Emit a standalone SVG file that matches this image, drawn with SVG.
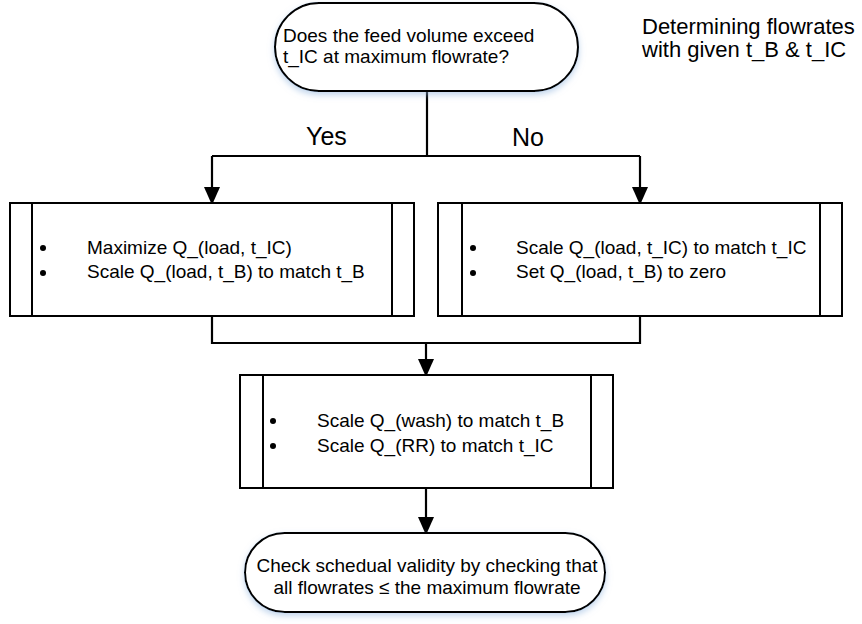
<svg xmlns="http://www.w3.org/2000/svg" width="862" height="624" viewBox="0 0 862 624">
<style>
text{font-family:"Liberation Sans",Arial,sans-serif;fill:#000}
.t{font-size:19px}
.big{font-size:25px}
.title{font-size:22px}
.term{fill:#fff;stroke:#000;stroke-width:2}
.box{fill:#fff;stroke:#000;stroke-width:2}
.edge{fill:none;stroke:#000;stroke-width:2.2}
.bul{fill:#000}
</style>
<defs>
<filter id="sh" x="-10%" y="-20%" width="120%" height="150%">
<feDropShadow dx="0" dy="3" stdDeviation="3" flood-color="#8fb3de" flood-opacity="0.55"/>
</filter>
<marker id="ah" viewBox="0 0 16 18" refX="16" refY="8" markerWidth="16" markerHeight="18" markerUnits="userSpaceOnUse" orient="auto">
<path d="M0,0 L18,8 L0,16 Z" fill="#000"/>
</marker>
</defs>
<rect width="862" height="624" fill="#fff"/>
<g id="connectors">
<path class="edge" d="M427,91 V156"/>
<path class="edge" d="M212,156 H640"/>
<path class="edge" d="M212,156 V203" marker-end="url(#ah)"/>
<path class="edge" d="M640,156 V203" marker-end="url(#ah)"/>
<path class="edge" d="M212,316 V343 H640 V316"/>
<path class="edge" d="M426,343 V375" marker-end="url(#ah)"/>
<path class="edge" d="M426,488 V533" marker-end="url(#ah)"/>
<text class="big" x="306" y="145">Yes</text>
<text class="big" x="512" y="146">No</text>
</g>
<g id="title">
<text class="title" x="642" y="34">Determining flowrates</text>
<text class="title" x="642" y="57">with given t_B &amp; t_IC</text>
</g>
<g id="start">
<rect class="term" x="275" y="3" width="303" height="88" rx="44" filter="url(#sh)"/>
<text class="t" x="283" y="42">Does the feed volume exceed</text>
<text class="t" x="283" y="63">t_IC at maximum flowrate?</text>
</g>
<g id="yes-box">
<rect class="box" x="10" y="203" width="404" height="113"/>
<path class="box" d="M32,203 V316 M392,203 V316"/>
<circle class="bul" cx="43" cy="248" r="3"/>
<circle class="bul" cx="43" cy="273" r="3"/>
<text class="t" x="87" y="254">Maximize Q_(load, t_IC)</text>
<text class="t" x="87" y="278">Scale Q_(load, t_B) to match t_B</text>
</g>
<g id="no-box">
<rect class="box" x="438" y="203" width="404" height="113"/>
<path class="box" d="M462,203 V316 M820,203 V316"/>
<circle class="bul" cx="473" cy="248" r="3"/>
<circle class="bul" cx="473" cy="273" r="3"/>
<text class="t" x="516" y="254">Scale Q_(load, t_IC) to match t_IC</text>
<text class="t" x="516" y="278">Set Q_(load, t_B) to zero</text>
</g>
<g id="scale-box">
<rect class="box" x="240" y="375" width="373" height="113"/>
<path class="box" d="M263,375 V488 M591,375 V488"/>
<circle class="bul" cx="273" cy="421" r="3"/>
<circle class="bul" cx="273" cy="446" r="3"/>
<text class="t" x="317" y="427">Scale Q_(wash) to match t_B</text>
<text class="t" x="317" y="452">Scale Q_(RR) to match t_IC</text>
</g>
<g id="end">
<rect class="term" x="245" y="533" width="360" height="79" rx="39.5" filter="url(#sh)"/>
<text class="t" x="427" y="572" text-anchor="middle">Check schedual validity by checking that</text>
<text class="t" x="427" y="594" text-anchor="middle">all flowrates ≤ the maximum flowrate</text>
</g>
</svg>
